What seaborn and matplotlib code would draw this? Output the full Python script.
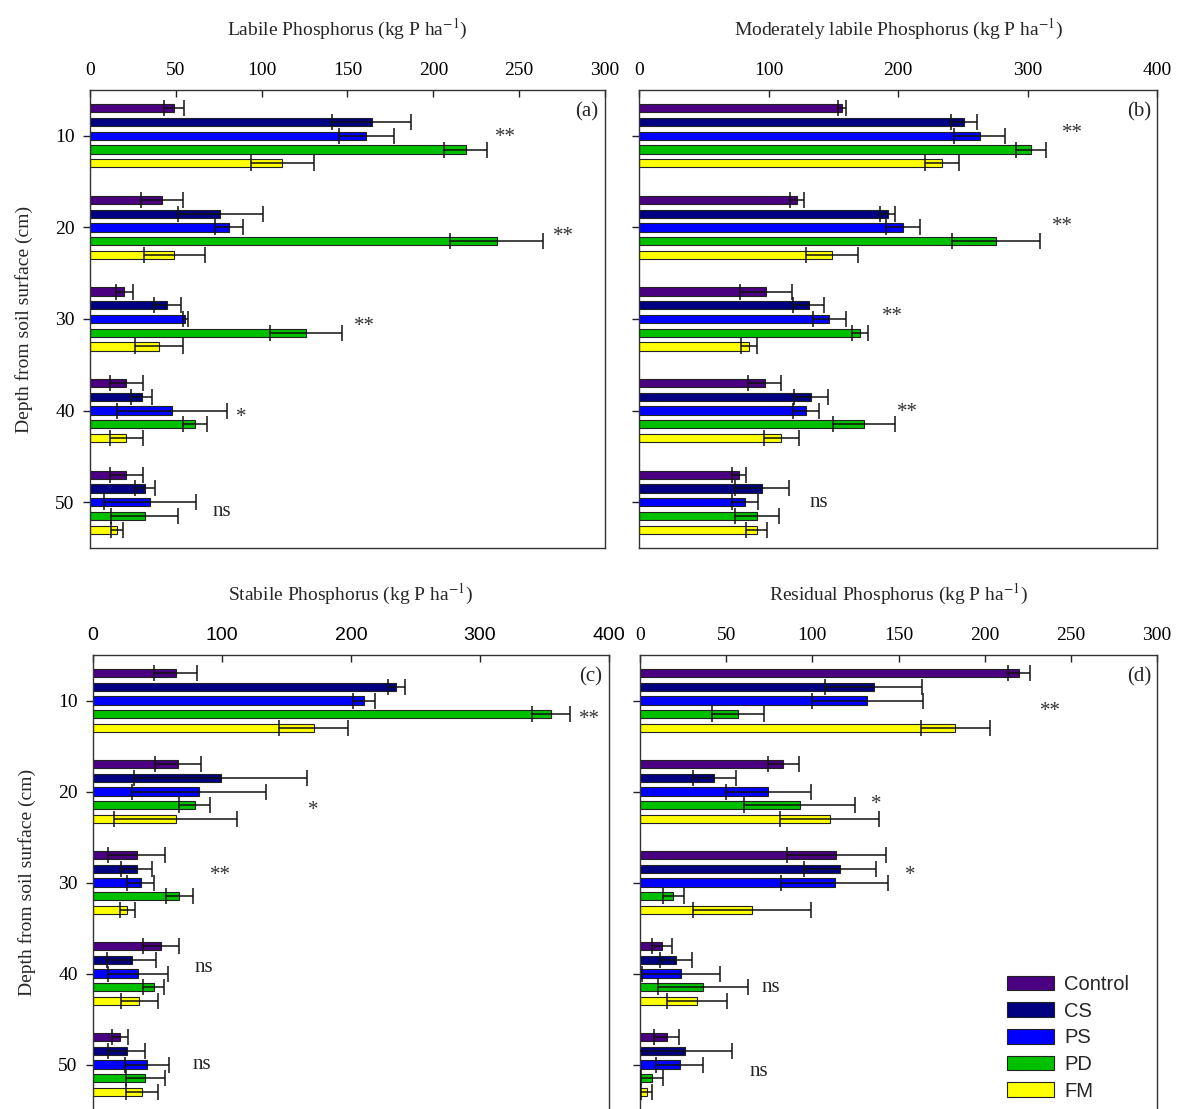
import numpy as np
import pandas as pd
import matplotlib
matplotlib.use("Agg")
import matplotlib.pyplot as plt
from matplotlib.patches import Patch
import seaborn as sns

sns.set_style("white")
plt.rcParams["font.family"] = ["Liberation Serif", "DejaVu Serif"]
plt.rcParams["mathtext.fontset"] = "stix"

depths = [10, 20, 30, 40, 50]
treatments = ["Control", "CS", "PS", "PD", "FM"]
colors = ["#4a0080", "#000080", "#0000ff", "#00c000", "#ffff00"]

# Means and standard errors, one row per treatment, columns follow depths
labile_mean = [[49, 42, 20, 21, 21],
               [164, 76, 45, 30, 32],
               [161, 81, 55.5, 48, 35],
               [219, 237, 126, 61, 32],
               [112, 49, 40, 21, 16]]
labile_err = [[6, 12.4, 5, 9.6, 9.6],
              [23, 24.7, 8, 6.3, 6],
              [16, 8.4, 1.5, 32, 26.6],
              [12.5, 27, 21, 7, 19.5],
              [18.5, 17.8, 14, 9.6, 3.5]]

modlabile_mean = [[157, 122, 98, 97, 77],
                  [251, 192, 131, 133, 95],
                  [263, 204, 147, 129, 82],
                  [303, 276, 170.5, 173.5, 91],
                  [234, 149, 85, 110, 91]]
modlabile_err = [[3, 5.6, 20, 13, 5.5],
                 [10, 6, 12, 13, 20.5],
                 [19.5, 13, 13, 10, 10],
                 [11.5, 34, 6, 24, 17],
                 [13, 20, 6.5, 13.5, 8]]

stabile_mean = [[64, 66, 34, 53, 21],
                [235, 99, 34, 30, 26],
                [210, 82, 37, 35, 42],
                [355, 79, 67, 47, 40.6],
                [171, 64, 26.5, 36, 38]]
stabile_err = [[17, 17.7, 22, 14, 6],
               [6.7, 67, 12, 19, 14],
               [8.3, 52, 10.5, 23, 17],
               [14.8, 12, 10.5, 8, 15],
               [27, 47.6, 5.8, 14.3, 12.5]]

residual_mean = [[220, 83, 114, 13, 15.6],
                 [135.5, 43, 116, 21, 26.4],
                 [132, 74.5, 113, 24, 23],
                 [57, 92.6, 19.4, 36.5, 7],
                 [183, 110, 65, 33, 4]]
residual_err = [[6.5, 9, 28.5, 5.8, 7.3],
                [28, 12.5, 21, 9.3, 27],
                [32, 24.7, 31, 22.6, 13.5],
                [15, 32, 6.2, 26, 6.3],
                [20, 28.5, 34, 17.5, 3.2]]

# Significance marks: (text, value position, depth position)
labile_sig = [("**", 242, 9.7), ("**", 276, 20.5), ("**", 160, 30.3),
              ("*", 88, 40.2), ("ns", 77, 51.0)]
modlabile_sig = [("**", 335, 9.3), ("**", 327, 19.4), ("**", 196, 29.2),
                 ("**", 207, 39.7), ("ns", 139, 50.0)]
stabile_sig = [("**", 385, 11.6), ("*", 171, 21.6), ("**", 99, 28.7),
               ("ns", 86, 39.3), ("ns", 84, 50.0)]
residual_sig = [("**", 238, 10.7), ("*", 137, 20.9), ("*", 157, 28.7),
                ("ns", 76, 41.5), ("ns", 69, 50.8)]

W, H = 1177, 1109
fig = plt.figure(figsize=(W / 100, H / 100), dpi=100)


def frac(left, right, top, bottom):
    return [left / W, 1 - bottom / H, (right - left) / W, (bottom - top) / H]


panels = [
    dict(rect=frac(90, 605, 90, 548), mean=labile_mean, err=labile_err,
         sig=labile_sig, xmax=300, step=50, tag="(a)",
         title=r"Labile Phosphorus (kg P ha$^{-1}$)", left=True, tickfont=None, bottom=True),
    dict(rect=frac(639, 1157, 90, 548), mean=modlabile_mean, err=modlabile_err,
         sig=modlabile_sig, xmax=400, step=100, tag="(b)",
         title=r"Moderately labile Phosphorus (kg P ha$^{-1}$)", left=False, tickfont=None, bottom=True),
    dict(rect=frac(93, 609, 655, 1110), mean=stabile_mean, err=stabile_err,
         sig=stabile_sig, xmax=400, step=100, tag="(c)",
         title=r"Stabile Phosphorus (kg P ha$^{-1}$)", left=True, tickfont="Liberation Sans", bottom=False),
    dict(rect=frac(640, 1157, 655, 1110), mean=residual_mean, err=residual_err,
         sig=residual_sig, xmax=300, step=50, tag="(d)",
         title=r"Residual Phosphorus (kg P ha$^{-1}$)", left=False, tickfont=None, bottom=False),
]

for p in panels:
    ax = fig.add_axes(p["rect"])
    df = pd.DataFrame({
        "depth": np.tile(depths, len(treatments)),
        "treatment": np.repeat(treatments, len(depths)),
        "value": np.ravel(p["mean"]),
    })
    sns.barplot(data=df, x="value", y="depth", hue="treatment",
                hue_order=treatments, palette=colors, orient="y",
                native_scale=True, width=0.75, gap=0.4, errorbar=None,
                edgecolor="#222222", linewidth=0.8, legend=False,
                saturation=1, ax=ax)
    bar_sets = list(ax.containers)
    for cont, errs in zip(bar_sets, p["err"]):
        ys = [b.get_y() + b.get_height() / 2 for b in cont]
        xs = [b.get_width() for b in cont]
        ax.errorbar(xs, ys, xerr=errs, fmt="none", ecolor="#111111",
                    elinewidth=1.1, capsize=5.5, capthick=1.1, zorder=5)

    for txt, xv, yv in p["sig"]:
        if txt == "ns":
            ax.text(xv, yv, txt, fontsize=15, ha="center", va="center")
        else:
            ax.text(xv, yv + 0.5, txt, fontsize=15, ha="center", va="center",
                    color="#333333")

    ax.text(0.965, 0.952, p["tag"], transform=ax.transAxes, fontsize=15,
            ha="center", va="center")

    ax.set_xlim(0, p["xmax"])
    ax.set_ylim(55, 5)
    ax.set_xticks(np.arange(0, p["xmax"] + 1, p["step"]))
    ax.set_yticks(depths)
    ax.xaxis.tick_top()
    ax.xaxis.set_label_position("top")
    ax.tick_params(axis="x", direction="in", length=5, width=1, pad=8,
                   labelsize=14, colors="#222222", labelcolor="black")
    ax.tick_params(axis="y", direction="out", length=5, width=1, pad=6,
                   labelsize=14, left=True, labelleft=p["left"],
                   colors="#222222", labelcolor="black")
    if p["tickfont"]:
        for lab in ax.get_xticklabels():
            lab.set_fontfamily(p["tickfont"])
    ax.set_xlabel(p["title"], fontsize=14, labelpad=19)
    if p["left"]:
        ax.set_ylabel("Depth from soil surface (cm)", fontsize=14, labelpad=16)
    else:
        ax.set_ylabel("")
    for name, sp in ax.spines.items():
        sp.set_color("#333333")
        sp.set_linewidth(1.0)
    if not p["bottom"]:
        ax.spines["bottom"].set_visible(False)
    ax.grid(False)

handles = [Patch(facecolor=c, edgecolor="#222222", linewidth=0.8) for c in colors]
fig.legend(handles, treatments, loc="upper left",
           bbox_to_anchor=(1007 / W, 1 - 975 / H), frameon=False,
           prop={"family": "Liberation Sans", "size": 14.5},
           handlelength=2.35, handleheight=0.75, labelspacing=0.38,
           handletextpad=0.5, borderpad=0, borderaxespad=0)

fig.savefig("out.png", dpi=100)
